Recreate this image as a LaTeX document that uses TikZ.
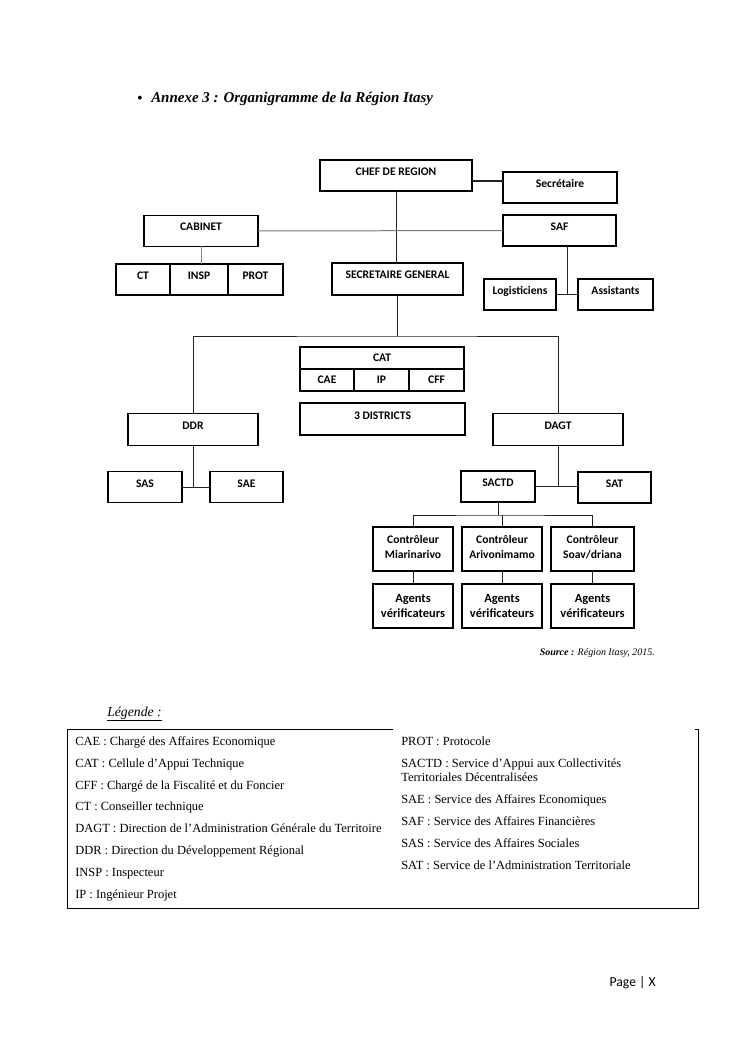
\documentclass[tikz,border=0pt]{standalone}
\usepackage{fontspec}
\setmainfont{Liberation Serif}
\newfontfamily\calibri{Carlito}
\usepackage{xcolor}
\usetikzlibrary{positioning, calc}

\definecolor{linkblue}{RGB}{100,140,195}
\definecolor{linkgray}{RGB}{120,120,120}
\definecolor{linkdark}{RGB}{35,35,35}

\begin{document}
\begin{tikzpicture}[
        x=0.028185cm, y=-0.028185cm,
        boxbase/.style={rectangle, draw, line width=0.9pt, inner sep=1pt, outer sep=0pt, align=center, font=\calibri\bfseries\fontsize{9.3}{11.3}\selectfont},
        unit/.style={boxbase, text height=6pt, text depth=6pt},
        cell/.style={boxbase},
        ctrl/.style={boxbase},
        agent/.style={boxbase, font=\calibri\bfseries\fontsize{10}{12.5}\selectfont},
        size/.style 2 args={minimum width=#1*0.028185cm, minimum height=#2*0.028185cm},
        link/.style={draw, line width=0.8pt, linkdark},
        legend/.style={anchor=base west, inner sep=0pt, font=\fontsize{10}{11.2}\selectfont, align=left}
    ]
        \useasboundingbox (0,0) rectangle (745,1053);

        % --- Title ---
        \node[font=\fontsize{13}{14}\selectfont] (bullet) at (140,100) {•};
        \node[anchor=west, inner sep=0pt, font=\bfseries\itshape\fontsize{12}{14}\selectfont] (title) at (151,99) {Annexe 3 : Organigramme de la Région Itasy};

        % --- Top: Chef de Region ---
        \node[unit, size={152}{31}] (chef) at (396,175.5) {CHEF DE REGION};
        \node[unit, size={114}{31}] (secr) at (560,187.5) {Secrétaire};
        \node[unit, size={114}{31}] (cab) at (201,231) {CABINET};
        \node[unit, size={113}{31}] (saf) at (559.5,230.5) {SAF};

        \node[unit, size={54}{31}] (ct) at (143,279.5) {CT};
        \node[unit, size={58}{31}] (insp) [right=0pt of ct] {INSP};
        \node[unit, size={55}{31}] (prot) [right=0pt of insp] {PROT};

        \node[unit, size={131}{32}] (sg) at (397.5,279) {SECRETAIRE GENERAL};
        \node[unit, size={72}{31}] (log) at (520,294.5) {Logisticiens};
        \node[unit, size={75}{31}] (asst) at (615.5,294.5) {Assistants};

        % --- Middle: CAT and Districts ---
        \node[cell, size={164}{22}] (cat) at (382,358) {CAT};
        \node[cell, size={54}{22}] (cae) at (327,380) {CAE};
        \node[cell, size={55}{22}] (ip) [right=0pt of cae] {IP};
        \node[cell, size={55}{22}] (cff) [right=0pt of ip] {CFF};
        \node[unit, size={165}{32}] (dist) at (382.5,419) {3 DISTRICTS};

        % --- Directions ---
        \node[unit, size={130}{32}] (ddr) at (193,429.5) {DDR};
        \node[unit, size={130}{32}] (dagt) at (558,429.5) {DAGT};
        \node[unit, size={74}{31}] (sas) at (145,487) {SAS};
        \node[unit, size={73}{31}] (sae) at (246.5,487) {SAE};
        \node[unit, size={74}{31}] (sactd) at (498,486.5) {SACTD};
        \node[unit, size={73}{31}] (sat) at (614.5,487.5) {SAT};

        % --- Bottom: Controleurs and Agents ---
        \node[ctrl, size={80}{44}] (c1) at (413,549) {Contrôleur\\Miarinarivo\strut};
        \node[ctrl, size={80}{44}] (c2) at (502,549) {Contrôleur\\Arivonimamo\strut};
        \node[ctrl, size={83}{44}] (c3) at (592.5,549) {Contrôleur\\Soav/driana\strut};
        \node[agent, size={80}{44}] (a1) at (413,606) {Agents\\vérificateurs};
        \node[agent, size={80}{44}] (a2) at (502,606) {Agents\\vérificateurs};
        \node[agent, size={83}{44}] (a3) at (592.5,606) {Agents\\vérificateurs};

        % --- Connections ---
        \coordinate (cs) at ($(chef.south east)!0.32!(chef.north east)$);
        \draw[link, line width=1.2pt] (cs) -- (cs -| secr.west);
        \draw[link] (chef.south) -- (chef.south |- sg.north);
        \draw[link, linkgray] (cab.east) -- (saf.west);
        \draw[link, linkblue] (cab.south) -- (cab.south |- insp.north);

        \coordinate (lajoin) at ($(log.east)!0.5!(asst.west)$);
        \draw[link] (log.east) -- (asst.west);
        \draw[link] (saf.south -| lajoin) -- (lajoin);

        \coordinate (mbar) at (sg.south |- 0,336);
        \draw[link] (sg.south) -- (mbar);
        \draw[link] (ddr.north) |- (mbar) -| (dagt.north);

        \draw[link] (sas.east) -- (sae.west);
        \draw[link] (ddr.south) -- (ddr.south |- sas.east);
        \draw[link] (sactd.east) -- (sactd.east -| sat.west);
        \draw[link] (dagt.south) -- (dagt.south |- sactd.east);

        \coordinate (cbar) at (sactd.south |- 0,515);
        \draw[link] (sactd.south) -- (cbar);
        \draw[link] (c1.north) |- (cbar) -| (c3.north);
        \draw[link] (c2.north |- cbar) -- (c2.north);
        \foreach \i in {1,2,3}
            \draw[link] (c\i.south) -- (a\i.north);

        \node[anchor=east, inner sep=0pt, font=\itshape\fontsize{8}{9}\selectfont] (source) at (655,653) {\textbf{Source :} Région Itasy, 2015.};

        % --- Legend ---
        \node[anchor=west, inner sep=0pt, font=\itshape\fontsize{11}{13}\selectfont] (legtitle) at (107,714) {\underline{Légende :}};
        \coordinate (ftl) at (67,729);
        \coordinate (ftm) at (393,729);
        \coordinate (ftr) at (698,729);
        \coordinate (fbr) at (698,908);
        \coordinate (fbl) at (67,908);
        \draw[line width=0.7pt] (ftm) -- (ftl) -- (fbl) -- (fbr) -- (ftr) -- ++(-3,0);

        \node[legend] (lcae) at (75,745) {CAE : Chargé des Affaires Economique};
        \node[legend] (lcat) at (75,767) {CAT : Cellule d’Appui Technique};
        \node[legend] (lcff) at (75,789) {CFF : Chargé de la Fiscalité et du Foncier};
        \node[legend] (lct) at (75,810) {CT : Conseiller technique};
        \node[legend] (ldagt) at (75,832) {DAGT : Direction de l’Administration Générale du Territoire};
        \node[legend] (lddr) at (75,854) {DDR : Direction du Développement Régional};
        \node[legend] (linsp) at (75,876) {INSP : Inspecteur};
        \node[legend] (lip) at (75,898) {IP : Ingénieur Projet};

        \node[legend] (lprot) at (401,745) {PROT : Protocole};
        \node[legend, anchor=west] (lsactd) at (401,770) {SACTD : Service d’Appui aux Collectivités\\Territoriales Décentralisées};
        \node[legend] (lsae) at (401,803) {SAE : Service des Affaires Economiques};
        \node[legend] (lsaf) at (401,825) {SAF : Service des Affaires Financières};
        \node[legend] (lsas) at (401,847) {SAS : Service des Affaires Sociales};
        \node[legend] (lsat) at (401,869) {SAT : Service de l’Administration Territoriale};

        % --- Footer ---
        \node[anchor=east, inner sep=0pt, font=\calibri\fontsize{11}{13}\selectfont] (page) at (656,983) {Page | X};

    \end{tikzpicture}
\end{document}
